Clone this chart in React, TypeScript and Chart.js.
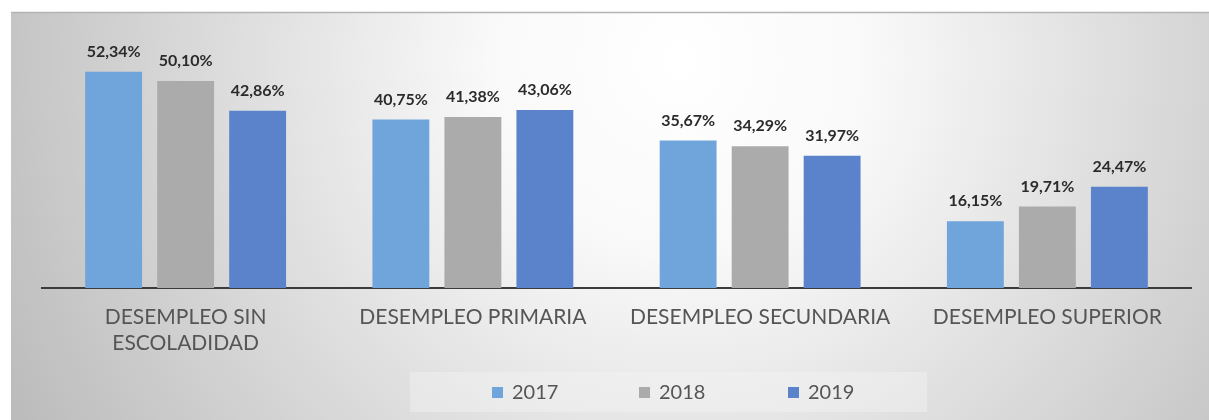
import React, { useEffect, useRef } from "react";
import { Chart, registerables } from "chart.js";

Chart.register(...registerables);

const categories: (string | string[])[] = [
  ["DESEMPLEO SIN", "ESCOLADIDAD"],
  "DESEMPLEO PRIMARIA",
  "DESEMPLEO SECUNDARIA",
  "DESEMPLEO SUPERIOR",
];
const seriesLabels = ["2017", "2018", "2019"];
const values2017 = [52.34, 40.75, 35.67, 16.15];
const values2018 = [50.1, 41.38, 34.29, 19.71];
const values2019 = [42.86, 43.06, 31.97, 24.47];
const seriesColors = ["#6FA5DB", "#ABABAB", "#5A83CB"];
const yMax = 60;

const fmt = (v: number) => v.toFixed(2).replace(".", ",") + "%";

const backgroundPlugin = {
  id: "bg",
  beforeDraw(chart: any) {
    const { ctx, width, height } = chart;
    ctx.save();
    ctx.fillStyle = "#ffffff";
    ctx.fillRect(0, 0, width, height);
    const g = ctx.createRadialGradient(680, 60, 0, 680, 60, 760);
    g.addColorStop(0, "#ffffff");
    g.addColorStop(0.25, "#f9f9f9");
    g.addColorStop(1, "#bbbbbb");
    ctx.fillStyle = g;
    ctx.fillRect(11, 12, width - 11, height - 12);
    ctx.strokeStyle = "#b3b3b3";
    ctx.lineWidth = 1.5;
    ctx.beginPath();
    ctx.moveTo(11, 12.5);
    ctx.lineTo(width, 12.5);
    ctx.stroke();
    ctx.restore();
  },
};

const dataLabelPlugin = {
  id: "dlabels",
  afterDatasetsDraw(chart: any) {
    const { ctx } = chart;
    ctx.save();
    ctx.font = "bold 16px Lato";
    ctx.fillStyle = "#2b2b2b";
    ctx.textAlign = "center";
    ctx.textBaseline = "alphabetic";
    chart.data.datasets.forEach((ds: any, di: number) => {
      const meta = chart.getDatasetMeta(di);
      meta.data.forEach((bar: any, i: number) => {
        ctx.fillText(fmt(ds.data[i]), bar.x, bar.y - 15);
      });
    });
    ctx.restore();
  },
};

const legendPlugin = {
  id: "customLegend",
  afterDraw(chart: any) {
    const { ctx } = chart;
    ctx.save();
    ctx.fillStyle = "rgba(246,246,246,0.4)";
    ctx.fillRect(410, 372, 517, 40);
    const starts = [492, 639, 788];
    ctx.font = "20px Lato";
    ctx.textBaseline = "middle";
    ctx.textAlign = "left";
    chart.data.datasets.forEach((ds: any, i: number) => {
      const x = starts[i];
      ctx.fillStyle = ds.backgroundColor;
      ctx.fillRect(x, 387, 11, 11);
      ctx.fillStyle = "#555555";
      ctx.fillText(ds.label, x + 20, 393);
    });
    ctx.restore();
  },
};

export default function App() {
  const ref = useRef<HTMLCanvasElement | null>(null);
  useEffect(() => {
    document.body.style.margin = "0";
    if (!ref.current) return;
    const chart = new Chart(ref.current, {
      type: "bar",
      data: {
        labels: categories,
        datasets: [values2017, values2018, values2019].map((d, i) => ({
          label: seriesLabels[i],
          data: d,
          backgroundColor: seriesColors[i],
          borderWidth: 0,
          categoryPercentage: 0.752,
          barPercentage: 0.79,
        })),
      },
      options: {
        responsive: false,
        animation: false,
        devicePixelRatio: 1,
        layout: { padding: { left: 42, right: 18, top: 40, bottom: 0 } },
        plugins: {
          legend: { display: false },
          tooltip: { enabled: false },
          title: { display: false },
        },
        scales: {
          x: {
            grid: { display: false, drawTicks: false },
            border: { display: true, color: "#3b3b3b", width: 2 },
            ticks: {
              font: { family: "Lato", size: 21, lineHeight: 1.24 },
              color: "#555555",
              padding: 16,
              maxRotation: 0,
              autoSkip: false,
            },
            afterFit(scale: any) {
              scale.height = 132;
            },
          },
          y: {
            display: false,
            min: 0,
            max: yMax,
          },
        },
      },
      plugins: [backgroundPlugin, dataLabelPlugin, legendPlugin],
    });
    return () => chart.destroy();
  }, []);
  return (
    <div style={{ position: "absolute", left: 0, top: 0, width: 1209, height: 420 }}>
      <canvas ref={ref} width={1209} height={420} />
    </div>
  );
}
